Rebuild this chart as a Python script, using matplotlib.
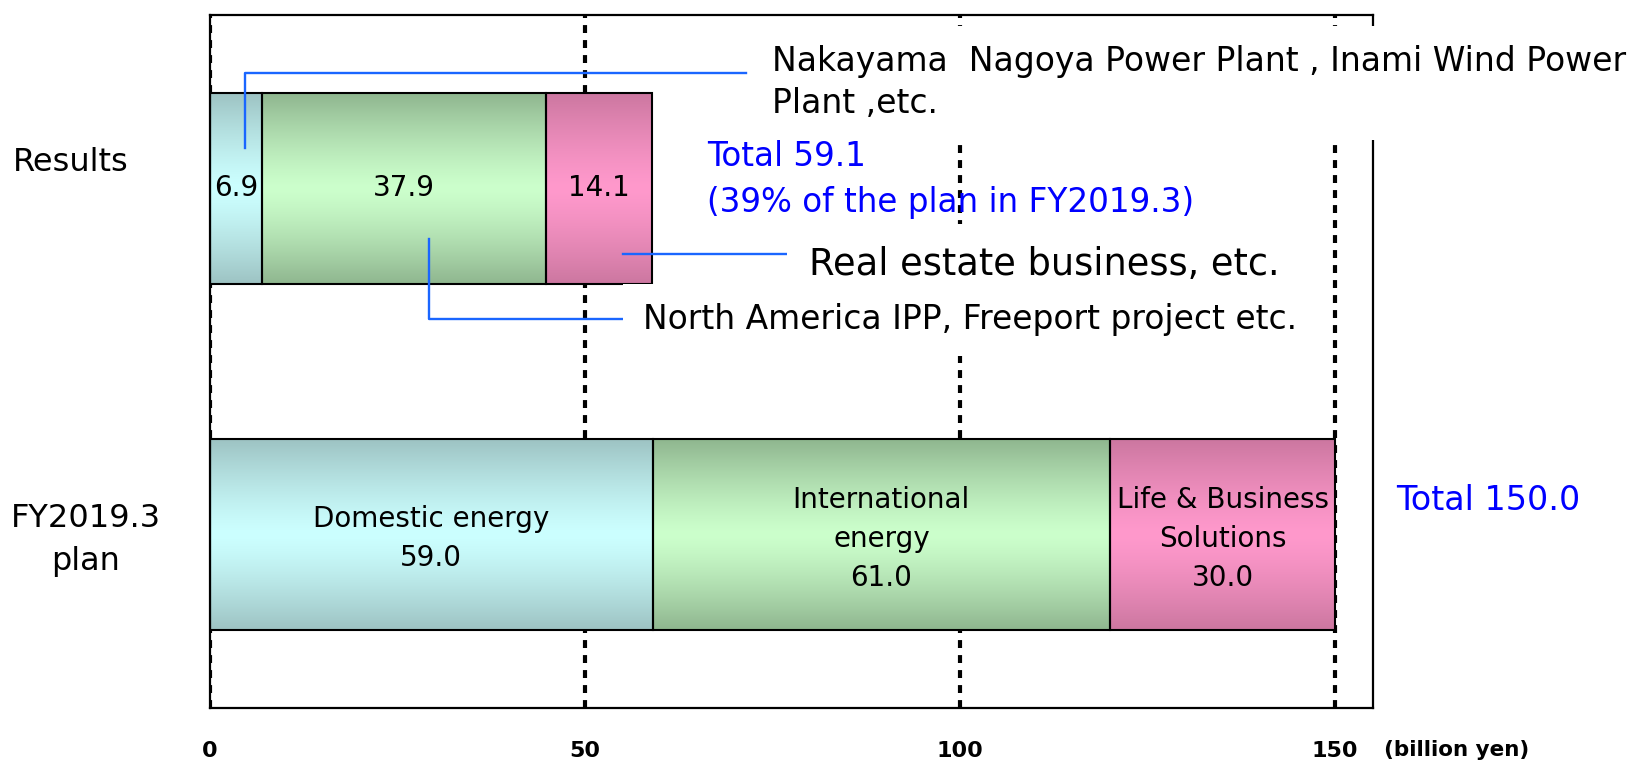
import matplotlib.pyplot as plt
import numpy as np
from matplotlib.colors import to_rgb

# --- data -------------------------------------------------------------
rows = ["FY2019.3\nplan", "Results"]
plan_values = [59.0, 61.0, 30.0]
result_values = [6.9, 37.9, 14.1]
plan_labels = ["Domestic energy\n59.0", "International\nenergy\n61.0",
               "Life & Business\nSolutions\n30.0"]
result_labels = ["6.9", "37.9", "14.1"]
plan_total = "Total 150.0"
result_total = "Total 59.1\n(39% of the plan in FY2019.3)"
xticks = [0, 50, 100, 150]
unit_label = "(billion yen)"

edge_colors = ["#9dc3c3", "#8fb68f", "#cc77a0"]
mid_colors = ["#ccffff", "#ccffcc", "#ff99cc"]
leader_color = "#1a66ff"
note_color = "#0000ff"


def gradient_fill(ax, patch, c_edge, c_mid):
    """Fill a bar with a vertical dark-light-dark gradient."""
    x0, y0 = patch.get_x(), patch.get_y()
    w, h = patch.get_width(), patch.get_height()
    t = np.linspace(0, 1, 256)
    k = (np.abs(t - 0.5) * 2) ** 1.3
    e = np.array(to_rgb(c_edge))
    m = np.array(to_rgb(c_mid))
    img = (m[None, :] + (e - m)[None, :] * k[:, None])[:, None, :]
    im = ax.imshow(img, extent=(x0, x0 + w, y0, y0 + h), aspect="auto",
                   origin="lower", interpolation="bilinear", zorder=1.2)
    im.set_clip_path(patch)


fig = plt.figure(figsize=(16.33, 7.67), dpi=100)
ax = fig.add_axes([0.1286, 0.0769, 0.7120, 0.9035])

bar_h = 0.55
y_plan, y_res = 0, 1

for yy, vals in [(y_plan, plan_values), (y_res, result_values)]:
    lefts = np.concatenate([[0], np.cumsum(vals)[:-1]])
    bars = ax.barh(yy, vals, left=lefts, height=bar_h, facecolor="none",
                   edgecolor="black", linewidth=1.5, zorder=2)
    for p, ce, cm in zip(bars.patches, edge_colors, mid_colors):
        gradient_fill(ax, p, ce, cm)

# labels inside bars
lefts = np.concatenate([[0], np.cumsum(plan_values)[:-1]])
for l, v, lab in zip(lefts, plan_values, plan_labels):
    ax.text(l + v / 2, y_plan - 0.012, lab, ha="center", va="center",
            fontsize=20, linespacing=1.5, zorder=3)
lefts = np.concatenate([[0], np.cumsum(result_values)[:-1]])
for l, v, lab in zip(lefts, result_values, result_labels):
    ax.text(l + v / 2, y_res, lab, ha="center", va="center", fontsize=20,
            zorder=3)

# dotted verticals
for x in xticks:
    ax.axvline(x, color="black", linewidth=3.0, linestyle=(0, (1.9, 1.7)),
               zorder=0.8)

ax.set_xlim(0, 155)
ax.set_ylim(-0.5, 1.5)
ax.set_yticks([])
ax.set_xticks(xticks)
ax.set_xticklabels([str(x) for x in xticks], fontsize=16, fontweight="bold")
ax.tick_params(axis="x", length=0, pad=24)
for s in ax.spines.values():
    s.set_linewidth(1.6)
    s.set_color("black")

# row labels
ax.text(-18.5, 1.073, rows[1], ha="center", va="center", fontsize=23,
        clip_on=False)
ax.text(-16.6, -0.015, rows[0], ha="center", va="center", fontsize=23,
        linespacing=1.5, clip_on=False)

# totals
ax.text(66.3, 1.026, result_total, ha="left", va="center", fontsize=23.5,
        color=note_color, linespacing=1.5, clip_on=False)
ax.text(158.1, 0.10, plan_total, ha="left", va="center", fontsize=24,
        color=note_color, clip_on=False)
ax.text(156.5, -0.0606, unit_label, transform=ax.get_xaxis_transform(),
        ha="left", va="center", fontsize=15.5, fontweight="bold",
        clip_on=False)

# call-outs
box = dict(boxstyle="square,pad=0.6", facecolor="white", edgecolor="none")
ax.text(74.9, 1.305, "Nakayama  Nagoya Power Plant , Inami Wind Power\nPlant ,etc.",
        ha="left", va="center", fontsize=23.8, linespacing=1.32, bbox=box,
        zorder=5, clip_on=False)
ax.text(79.9, 0.779, "Real estate business, etc.", ha="left", va="center",
        fontsize=26.5, bbox=box, zorder=5, clip_on=False)
ax.text(57.7, 0.620, "North America IPP, Freeport project etc.", ha="left",
        va="center", fontsize=23.7, bbox=box, zorder=5, clip_on=False)

ax.plot([4.66, 4.66, 71.5], [1.116, 1.334, 1.334], color=leader_color,
        linewidth=1.7, zorder=4, clip_on=False)
ax.plot([55.0, 77.1], [0.810, 0.810], color=leader_color, linewidth=1.7,
        zorder=4, clip_on=False)
ax.plot([29.2, 29.2, 55.0], [0.854, 0.624, 0.624], color=leader_color,
        linewidth=1.7, zorder=4, clip_on=False)

fig.savefig("out.png", dpi=100)
